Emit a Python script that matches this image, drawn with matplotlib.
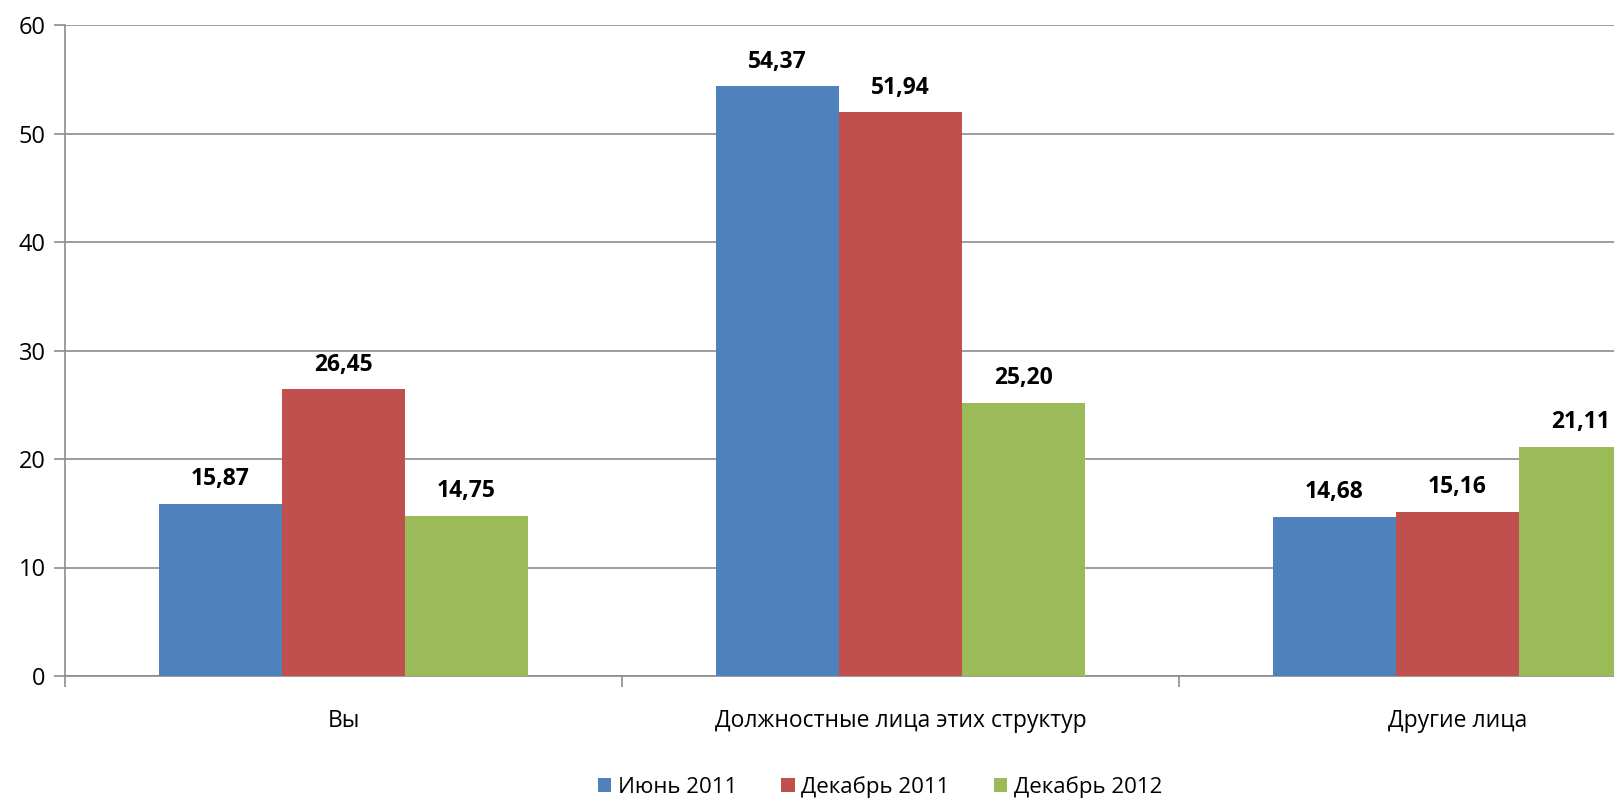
import numpy as np
import matplotlib.pyplot as plt

categories = ['Вы', 'Должностные лица этих структур', 'Другие лица']
series = ['Июнь 2011', 'Декабрь 2011', 'Декабрь 2012']
june_2011 = [15.87, 54.37, 14.68]
dec_2011 = [26.45, 51.94, 15.16]
dec_2012 = [14.75, 25.20, 21.11]
colors = ['#4F81BD', '#C0504D', '#9BBB59']

plt.rcParams['font.family'] = ['Open Sans', 'DejaVu Sans']

fig = plt.figure(figsize=(16.14, 7.99), dpi=100)
# the original chart is cut off on the right, so the axes run past the figure edge
ax = fig.add_axes([65 / 1614, 1 - 676 / 799, 1671 / 1614, 651 / 799])

x = np.arange(len(categories)) + 0.5
w = 0.221
for i, (vals, name) in enumerate(zip([june_2011, dec_2011, dec_2012], series)):
    pos = x + (i - 1) * w
    bars = ax.bar(pos, vals, w, color=colors[i], label=name, zorder=3)
    for b, v in zip(bars, vals):
        ax.annotate(f'{v:.2f}'.replace('.', ','), (b.get_x() + b.get_width() / 2, v),
                    xytext=(0, 9), textcoords='offset points', ha='center', va='bottom',
                    fontsize=16.5, fontweight='bold', color='black')

ax.set_xlim(0, 3)
ax.set_ylim(0, 60)
ax.set_yticks(range(0, 61, 10))
ax.yaxis.grid(True, color='#8c8c8c', linewidth=1.2, zorder=0)
ax.set_xticks(x)
ax.set_xticklabels(categories, fontsize=16.5)
ax.set_xticks([0, 1, 2, 3], minor=True)
ax.tick_params(axis='x', which='major', length=0, pad=24)
ax.tick_params(axis='x', which='minor', length=8, color='#8c8c8c', width=1.2)
ax.tick_params(axis='y', length=8, color='#8c8c8c', width=1.2, labelsize=17, pad=6)
for s in ['top', 'right']:
    ax.spines[s].set_visible(False)
for s in ['left', 'bottom']:
    ax.spines[s].set_color('#8c8c8c')
    ax.spines[s].set_linewidth(1.2)

fig.legend(loc='center', bbox_to_anchor=(880 / 1614, 1 - 787 / 799), ncol=3, frameon=False,
           fontsize=16, handlelength=0.6, handleheight=0.6, handletextpad=0.3, columnspacing=2.0)

fig.savefig('out.png', dpi=100)
